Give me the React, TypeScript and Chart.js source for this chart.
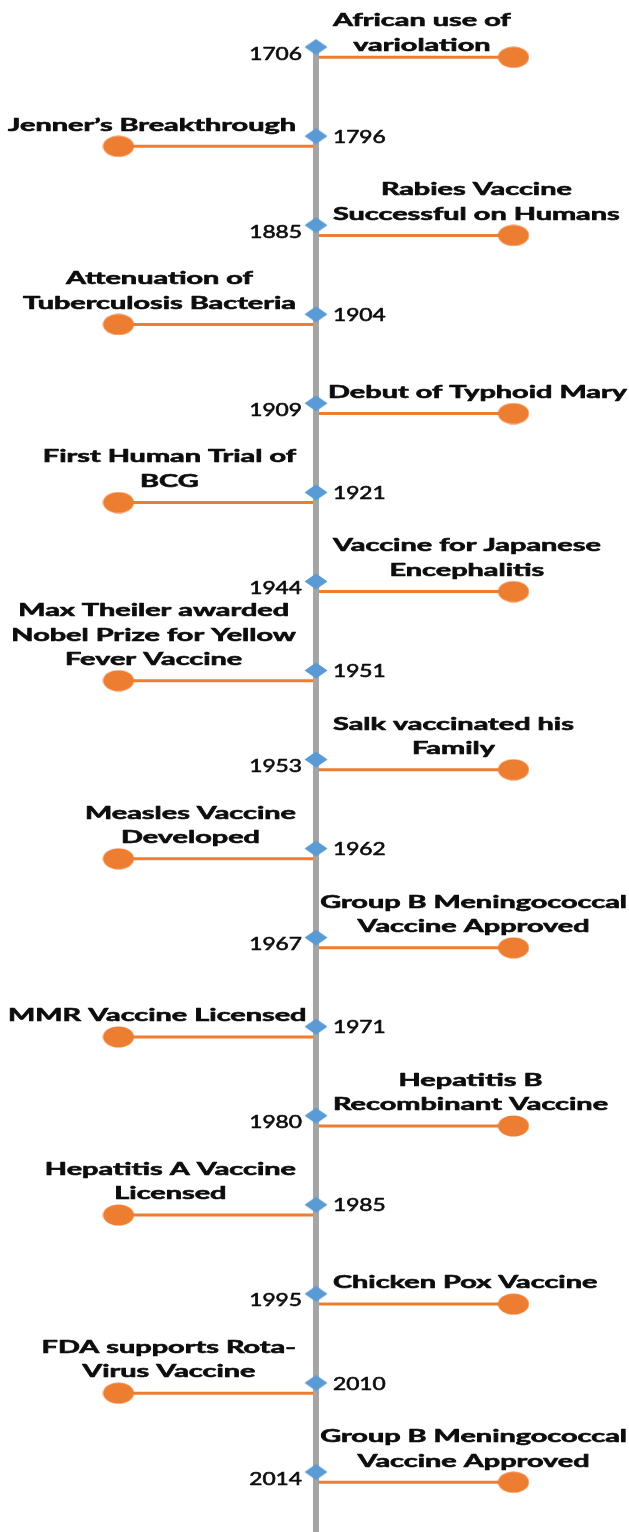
import React, { useEffect, useRef } from "react";
import { Chart, registerables } from "chart.js";

Chart.register(...registerables);

const years = ["1706", "1796", "1885", "1904", "1909", "1921", "1944", "1951", "1953", "1962", "1967", "1971", "1980", "1985", "1995", "2010", "2014"];

const events: string[][] = [
  ["African use of", "variolation"],
  ["Jenner’s Breakthrough"],
  ["Rabies Vaccine", "Successful on Humans"],
  ["Attenuation of", "Tuberculosis Bacteria"],
  ["Debut of Typhoid Mary"],
  ["First Human Trial of", "BCG"],
  ["Vaccine for Japanese", "Encephalitis"],
  ["Max Theiler awarded", "Nobel Prize for Yellow", "Fever Vaccine"],
  ["Salk vaccinated his", "Family"],
  ["Measles Vaccine", "Developed"],
  ["Group B Meningococcal", "Vaccine Approved"],
  ["MMR Vaccine Licensed"],
  ["Hepatitis B", "Recombinant Vaccine"],
  ["Hepatitis A Vaccine", "Licensed"],
  ["Chicken Pox Vaccine"],
  ["FDA supports Rota-", "Virus Vaccine"],
  ["Group B Meningococcal", "Vaccine Approved"],
];

// +1 = event drawn to the right of the axis, -1 = to the left
const sides = [1, -1, 1, -1, 1, -1, 1, -1, 1, -1, 1, -1, 1, -1, 1, -1, 1];

const ORANGE = "#ED7D31";
const BLUE = "#5B9BD5";
const GRAY = "#A5A5A5";
const TEXT = "#0d0d0d";

const X_MIN = -1.6;
const X_MAX = 1.585;
const Y_MIN = -0.528;
const Y_MAX = 16.674;
const CONNECTOR_OFFSET = 0.115;

const EVENT_FONT = "bold 16.5px Lato";
const EVENT_SX = 1.75;
const YEAR_FONT = "17.5px Lato";
const YEAR_SX = 1.3;
const LINE_H = 24.5;

function makeDiamond() {
  const c = document.createElement("canvas");
  c.width = 24;
  c.height = 17;
  const g = c.getContext("2d")!;
  g.fillStyle = BLUE;
  g.beginPath();
  g.moveTo(0.5, 8.5);
  g.lineTo(12, 0.5);
  g.lineTo(23.5, 8.5);
  g.lineTo(12, 16.5);
  g.closePath();
  g.fill();
  return c;
}

function makeEllipse() {
  const c = document.createElement("canvas");
  c.width = 32;
  c.height = 22;
  const g = c.getContext("2d")!;
  g.fillStyle = ORANGE;
  g.beginPath();
  g.ellipse(16, 11, 15.5, 10.5, 0, 0, Math.PI * 2);
  g.fill();
  return c;
}

function drawStretched(ctx: CanvasRenderingContext2D, t: string, x: number, y: number, sx: number, stroke: number) {
  ctx.save();
  ctx.translate(x, y);
  ctx.scale(sx, 1);
  ctx.fillText(t, 0, 0);
  if (stroke > 0) {
    ctx.lineWidth = stroke;
    ctx.strokeText(t, 0, 0);
  }
  ctx.restore();
}

const labelPlugin = {
  id: "timelineLabels",
  afterDatasetsDraw(chart: any) {
    const ctx = chart.ctx as CanvasRenderingContext2D;
    const xs = chart.scales.x;
    const ys = chart.scales.y;
    const axisX = xs.getPixelForValue(0);
    ctx.save();
    ctx.fillStyle = TEXT;
    ctx.strokeStyle = TEXT;
    ctx.lineJoin = "round";
    ctx.textBaseline = "middle";
    ctx.textAlign = "center";
    years.forEach((yr, i) => {
      const side = sides[i];
      const dY = ys.getPixelForValue(i);
      const lY = ys.getPixelForValue(i + CONNECTOR_OFFSET);
      // year label
      ctx.font = YEAR_FONT;
      const yw = ctx.measureText(yr).width * YEAR_SX;
      let yx: number, yy: number;
      if (side > 0) {
        yx = axisX - 14 - yw / 2;
        yy = dY + 7;
      } else {
        yx = axisX + 17 + yw / 2;
        yy = dY + 1;
      }
      drawStretched(ctx, yr, yx, yy, YEAR_SX, 0.6);

      // event label
      ctx.font = EVENT_FONT;
      const lines = events[i];
      const widths = lines.map((t) => ctx.measureText(t).width * EVENT_SX);
      const bw = Math.max(...widths);
      let left = side > 0 ? axisX + 17 : axisX - 20 - bw;
      if (left + bw > chart.width - 2) left = chart.width - 2 - bw;
      if (left < 8) left = 8;
      const cx = left + bw / 2;
      let firstY = lY - 21 - (lines.length - 1) * LINE_H;
      if (firstY < 21) firstY = 21;
      lines.forEach((t, k) => {
        drawStretched(ctx, t, cx, firstY + k * LINE_H, EVENT_SX, 0.6);
      });
    });
    ctx.restore();
  },
};

export default function App() {
  const ref = useRef<HTMLCanvasElement>(null);

  useEffect(() => {
    document.body.style.margin = "0";
    const diamond = makeDiamond();
    const ellipse = makeEllipse();

    const connectorSets = years.map((_, i) => ({
      type: "line" as const,
      data: [
        { x: 0, y: i + CONNECTOR_OFFSET },
        { x: sides[i], y: i + CONNECTOR_OFFSET },
      ],
      borderColor: ORANGE,
      borderWidth: 3,
      pointRadius: 0,
      showLine: true,
      order: 3,
    }));

    const chart = new Chart(ref.current!, {
      type: "scatter",
      data: {
        datasets: [
          {
            data: years.map((_, i) => ({ x: sides[i], y: i + CONNECTOR_OFFSET })),
            pointStyle: ellipse as any,
            pointRadius: 12,
            order: 0,
          },
          {
            data: years.map((_, i) => ({ x: 0, y: i })),
            pointStyle: diamond as any,
            pointRadius: 10,
            order: 1,
          },
          {
            type: "line",
            data: [
              { x: 0, y: 0 },
              { x: 0, y: Y_MAX + 1 },
            ],
            borderColor: GRAY,
            borderWidth: 6,
            pointRadius: 0,
            showLine: true,
            order: 2,
          } as any,
          ...(connectorSets as any[]),
        ],
      },
      options: {
        animation: false,
        responsive: false,
        layout: { padding: 0, autoPadding: false },
        plugins: { legend: { display: false }, tooltip: { enabled: false } },
        scales: {
          x: { type: "linear", min: X_MIN, max: X_MAX, display: false },
          y: { type: "linear", min: Y_MIN, max: Y_MAX, reverse: true, display: false },
        },
      },
      plugins: [labelPlugin],
    });
    return () => chart.destroy();
  }, []);

  return (
    <div style={{ width: 629, height: 1532, background: "#fff" }}>
      <canvas ref={ref} width={629} height={1532} style={{ display: "block" }} />
    </div>
  );
}
